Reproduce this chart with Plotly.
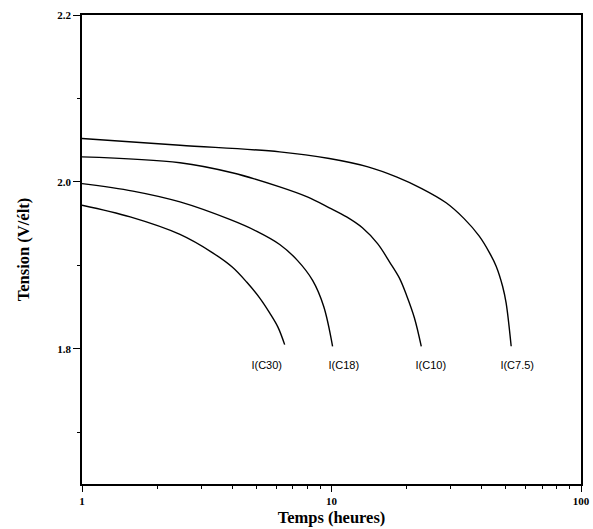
import plotly.graph_objects as go

# Discharge curves: time (hours) and voltage (V/element)
t_c75 = [1.0, 2.47, 6.2, 9.8, 14.0, 18.2, 23.0, 28.8, 34.0, 39.1, 43.0, 45.7, 48.5, 50.1, 52.5]
v_c75 = [2.052, 2.044, 2.036, 2.028, 2.018, 2.006, 1.992, 1.975, 1.956, 1.935, 1.915, 1.899, 1.875, 1.855, 1.803]

t_c10 = [1.0, 2.47, 4.0, 6.2, 8.0, 9.8, 11.5, 13.3, 15.3, 17.1, 18.7, 20.0, 21.5, 22.9]
v_c10 = [2.030, 2.023, 2.011, 1.994, 1.982, 1.969, 1.958, 1.945, 1.926, 1.904, 1.885, 1.864, 1.837, 1.803]

t_c18 = [1.0, 1.6, 2.47, 3.91, 5.0, 6.2, 7.3, 8.4, 9.3, 10.1]
v_c18 = [1.998, 1.989, 1.976, 1.955, 1.941, 1.925, 1.906, 1.882, 1.851, 1.803]

t_c30 = [1.0, 1.56, 2.47, 3.34, 4.0, 4.57, 5.15, 5.65, 6.1, 6.49]
v_c30 = [1.972, 1.958, 1.937, 1.915, 1.898, 1.880, 1.861, 1.843, 1.826, 1.805]

labels = ["I(C30)", "I(C18)", "I(C10)", "I(C7.5)"]
label_t = [5.5, 11.2, 25.0, 55.5]
label_v = [1.779, 1.779, 1.779, 1.779]

x_ticks = [1, 10, 100]
x_minor = [2, 3, 4, 5, 6, 7, 8, 9, 20, 30, 40, 50, 60, 70, 80, 90]
y_ticks = [1.8, 2.0, 2.2]
y_range = [1.638, 2.2]

fig = go.Figure()
for t, v in [(t_c75, v_c75), (t_c10, v_c10), (t_c18, v_c18), (t_c30, v_c30)]:
    fig.add_trace(go.Scatter(x=t, y=v, mode="lines",
                             line=dict(color="black", width=1.4, shape="spline", smoothing=1.0),
                             showlegend=False, hoverinfo="skip"))

fig.add_trace(go.Scatter(x=label_t, y=label_v, mode="text", text=labels,
                         textfont=dict(family="Liberation Sans", size=11, color="black"),
                         showlegend=False, hoverinfo="skip"))

serif = "Liberation Serif"
fig.update_layout(
    width=593, height=529,
    margin=dict(l=82, r=12, t=15, b=45),
    plot_bgcolor="white", paper_bgcolor="white",
    xaxis=dict(type="log", range=[0, 2], tickvals=x_ticks, ticktext=[str(v) for v in x_ticks],
               automargin=False,
               ticks="outside", ticklen=6, tickwidth=1, tickcolor="black",
               minor=dict(tickvals=x_minor, ticks="outside", ticklen=3, tickcolor="black"),
               showline=True, linecolor="black", linewidth=1.5, mirror=True,
               showgrid=False, zeroline=False,
               tickfont=dict(family=serif, size=11, color="black", weight="bold"),
               title=dict(text="Temps (heures)", standoff=5,
                          font=dict(family=serif, size=16.5, color="black", weight="bold"))),
    yaxis=dict(range=y_range, tickvals=y_ticks, ticktext=["%.1f" % v for v in y_ticks],
               automargin=False,
               ticks="outside", ticklen=7, tickwidth=1, tickcolor="black",
               minor=dict(dtick=0.1, tick0=1.7, ticks="outside", ticklen=3, tickcolor="black"),
               showline=True, linecolor="black", linewidth=1.5, mirror=True,
               showgrid=False, zeroline=False,
               tickfont=dict(family=serif, size=11, color="black", weight="bold"),
               title=dict(text="Tension (V/élt)", standoff=24,
                          font=dict(family=serif, size=16.5, color="black", weight="bold"))),
)

fig.write_html("out.html", config={"displayModeBar": False})

# remove the browser's default page margin so the figure fills the window exactly
with open("out.html", encoding="utf-8") as f:
    html = f.read()
html = html.replace("<body>", '<body style="margin:0;overflow:hidden">', 1)
with open("out.html", "w", encoding="utf-8") as f:
    f.write(html)
